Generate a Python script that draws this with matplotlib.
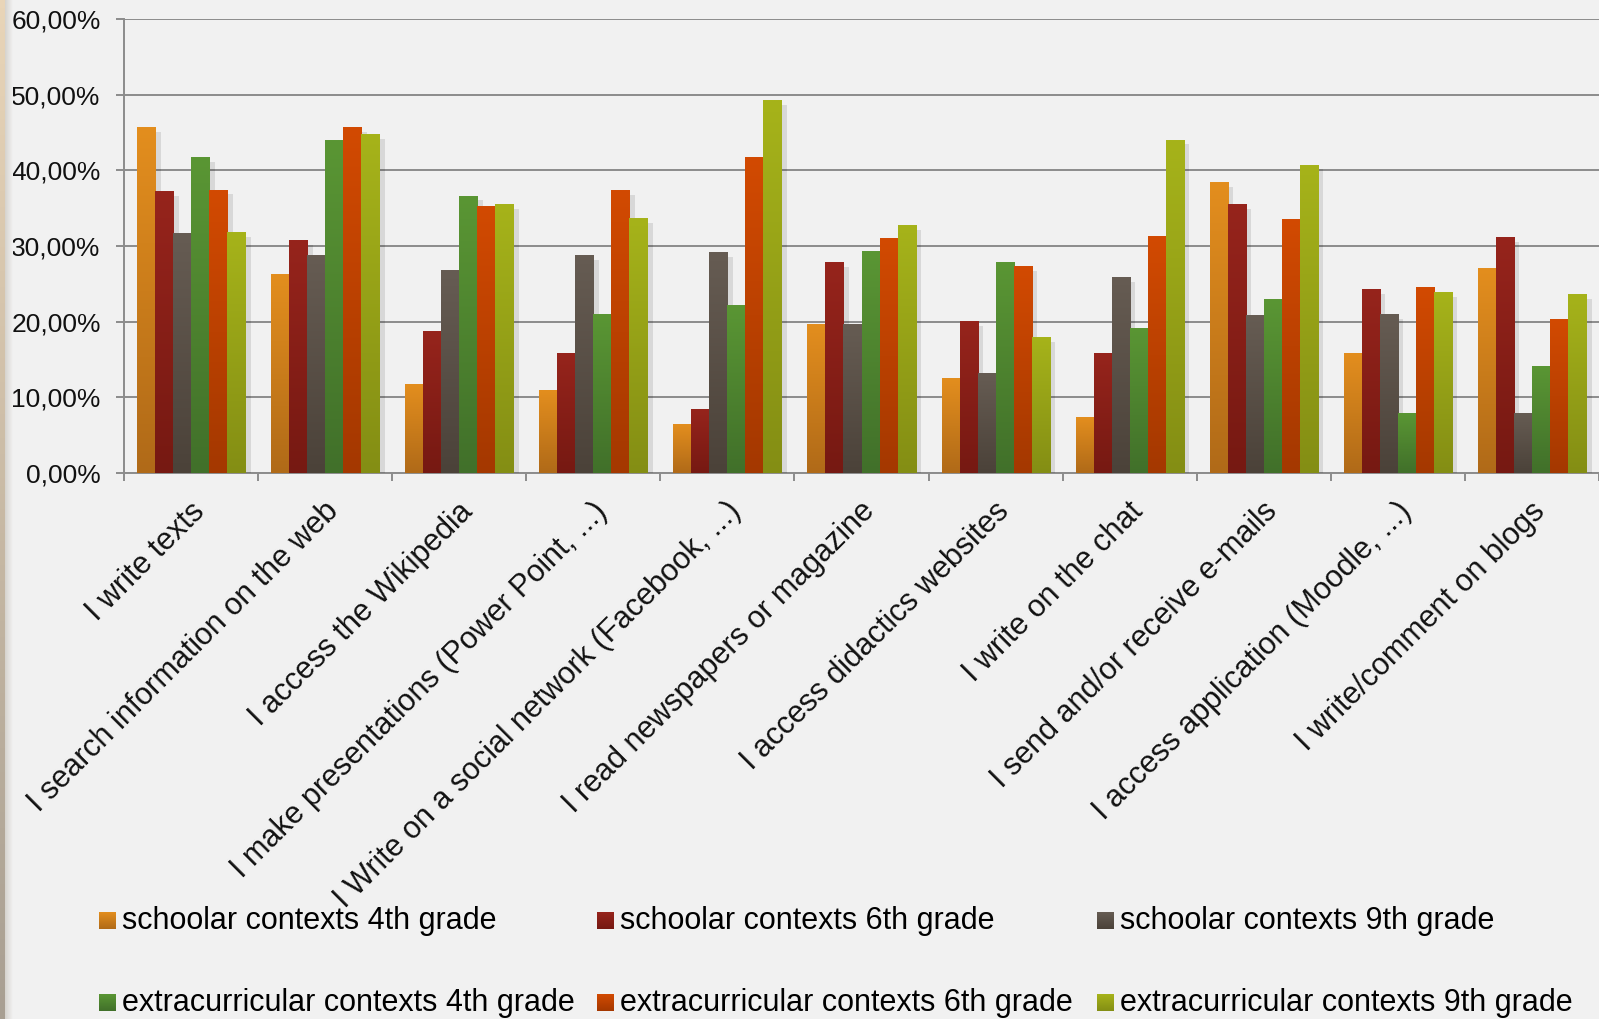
import numpy as np
import matplotlib.pyplot as plt
import matplotlib.patheffects as pe
from matplotlib.colors import LinearSegmentedColormap
from matplotlib.ticker import FuncFormatter
from matplotlib.transforms import offset_copy

# ---- data (percent of students) ----
activities = [
    "I write texts",
    "I search information on the web",
    "I access the Wikipedia",
    "I make presentations (Power Point, ...)",
    "I Write on a social network (Facebook, ...)",
    "I read newspapers or magazine",
    "I access didactics websites",
    "I write on the chat",
    "I send and/or receive e-mails",
    "I access application (Moodle, ...)",
    "I write/comment on blogs",
]

series_names = [
    "schoolar contexts 4th grade",
    "schoolar contexts 6th grade",
    "schoolar contexts 9th grade",
    "extracurricular contexts 4th grade",
    "extracurricular contexts 6th grade",
    "extracurricular contexts 9th grade",
]

school_4th = [45.6, 26.2, 11.7, 10.9, 6.4, 19.6, 12.5, 7.4, 38.4, 15.8, 27.0]
school_6th = [37.2, 30.7, 18.7, 15.8, 8.4, 27.8, 20.0, 15.8, 35.5, 24.2, 31.1]
school_9th = [31.6, 28.7, 26.7, 28.7, 29.1, 19.6, 13.1, 25.8, 20.8, 20.9, 7.8]
extra_4th = [41.7, 44.0, 36.6, 20.9, 22.2, 29.3, 27.8, 19.1, 22.9, 7.8, 14.1]
extra_6th = [37.4, 45.6, 35.2, 37.3, 41.7, 31.0, 27.3, 31.2, 33.5, 24.5, 20.3]
extra_9th = [31.8, 44.7, 35.5, 33.6, 49.2, 32.7, 17.9, 44.0, 40.7, 23.8, 23.6]

series = [school_4th, school_6th, school_9th, extra_4th, extra_6th, extra_9th]

# each bar fades from a light top to a darker bottom
top_colors = ["#E38E1E", "#96241C", "#665C53", "#5A9634", "#D24A02", "#A6B31A"]
bottom_colors = ["#B06A18", "#761912", "#4B4239", "#41702A", "#A43800", "#848E14"]

BG = "#F1F1F1"
GRID = "#8C8C8C"
W, H = 1599, 1019

plt.rcParams["font.family"] = ["Liberation Sans", "DejaVu Sans"]

fig = plt.figure(figsize=(W / 100, H / 100), dpi=100, facecolor=BG)
ax = fig.add_axes([124 / W, 1 - 473 / H, 1 - 124 / W, (473 - 19) / H])
ax.set_facecolor("none")

grad = np.linspace(0, 1, 128).reshape(-1, 1)
n = len(activities)
x = np.arange(n) + 0.5
width = 18 / 134

for k, vals in enumerate(series):
    cmap = LinearSegmentedColormap.from_list(f"s{k}", [bottom_colors[k], top_colors[k]])
    bars = ax.bar(x + (k - 2.5) * width, vals, width, color=top_colors[k],
                  linewidth=0, zorder=3, label=series_names[k])
    for b in bars:
        b.set_path_effects([pe.SimplePatchShadow(offset=(4, -3), shadow_rgbFace="#000000", alpha=0.10),
                            pe.Normal()])
        ax.imshow(grad, extent=(b.get_x(), b.get_x() + b.get_width(), 0, b.get_height()),
                  cmap=cmap, origin="lower", aspect="auto", interpolation="bilinear", zorder=3.5)

ax.set_xlim(0, n)
ax.set_ylim(0, 60)

# y axis
ax.set_yticks(np.arange(0, 61, 10))
ax.yaxis.set_major_formatter(FuncFormatter(lambda v, p: f"{v:.2f}%".replace(".", ",")))
ax.tick_params(axis="y", length=8 * 0.72, width=1.4, color=GRID, labelsize=19,
               labelcolor="#111111", pad=11)
ax.yaxis.grid(True, color=GRID, linewidth=1.4)
ax.set_axisbelow(True)

# x axis: tick marks between the groups, labels placed by hand
ax.set_xticks([])
ax.set_xticks(np.arange(0, n + 1), minor=True)
ax.tick_params(axis="x", which="minor", length=8 * 0.72, width=1.4, color=GRID)
ax.tick_params(axis="x", which="major", length=0)

for side in ["top", "right"]:
    ax.spines[side].set_visible(False)
for side in ["left", "bottom"]:
    ax.spines[side].set_color(GRID)
    ax.spines[side].set_linewidth(1.4)

lab_trans = offset_copy(ax.get_xaxis_transform(), fig=fig, x=9, y=-34, units="dots")
for xi, name in zip(x, activities):
    ax.text(xi, 0, name, transform=lab_trans, rotation=45, ha="right", va="center",
            rotation_mode="anchor", fontsize=22, color="#111111")

# legend: 3 columns x 2 rows
col_x = [99, 597, 1097]
row_base = [929, 1011]
for i, name in enumerate(series_names):
    cx, by = col_x[i % 3], row_base[i // 3]
    sq = fig.add_axes([cx / W, 1 - by / H, 17 / W, 17 / H])
    sq.imshow(grad, cmap=LinearSegmentedColormap.from_list(f"l{i}", [bottom_colors[i], top_colors[i]]),
              origin="lower", aspect="auto")
    sq.set_axis_off()
    fig.text((cx + 23) / W, 1 - by / H, name, fontsize=22, ha="left", va="baseline",
             color="#000000")

# thin paper edge on the left
edge = fig.add_axes([0, 0, 5 / W, 1])
edge.imshow(np.linspace(0, 1, 128).reshape(-1, 1),
            cmap=LinearSegmentedColormap.from_list("edge", ["#E9D5B8", "#A89F92"]), aspect="auto")
edge.set_axis_off()
shadow = fig.add_axes([5 / W, 0, 8 / W, 1])
shadow.imshow(np.linspace(0, 1, 32).reshape(1, -1),
              cmap=LinearSegmentedColormap.from_list("sh", ["#D6D3CE", BG]), aspect="auto")
shadow.set_axis_off()

fig.savefig("out.png", dpi=100, facecolor=BG)
